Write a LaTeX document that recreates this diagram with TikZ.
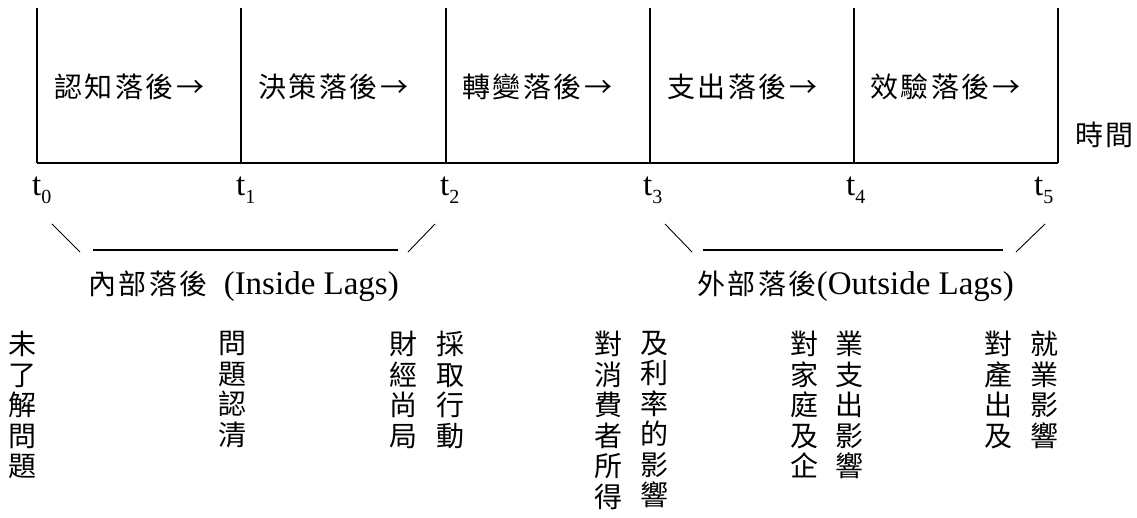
\documentclass[tikz,border=0pt]{standalone}
\usepackage{fontspec}
\setmainfont{Liberation Serif}
\newfontfamily\cjk[LetterSpace=9]{Noto Sans CJK TC}
\newfontfamily\cjkv{Noto Sans CJK TC}
\newcommand{\tsub}[1]{t\raisebox{-0.25em}{\fontsize{20}{20}\selectfont #1}}
\begin{document}
\begin{tikzpicture}[x=1pt,y=-1pt,
  frame/.style={line width=1.8pt},
  brk/.style={line width=1.3pt},
  diag/.style={line width=0.9pt},
  boxlabel/.style={font=\cjk\fontsize{28}{30}\selectfont, anchor=west, inner sep=0pt},
  tlabel/.style={font=\fontsize{33}{33}\selectfont, anchor=west, inner sep=0pt},
  laglabel/.style={anchor=west, inner sep=0pt},
  vcol/.style={font=\cjkv\fontsize{28}{30.5}\selectfont, align=center, anchor=north, inner sep=0pt}]
\useasboundingbox (0,0) rectangle (1137,518);

% frame of the time line
\foreach \i/\x in {0/37,1/241,2/446,3/650,4/854,5/1058}{
  \coordinate (top\i) at (\x,8);
  \coordinate (bot\i) at (\x,163);
}
\draw[frame] (bot0) -- (bot5);
\foreach \i in {0,...,5}{\draw[frame] (top\i) -- (bot\i);}

% lag names in the boxes
\node[boxlabel] (b1) at (54,87) {認知落後→};
\node[boxlabel] (b2) at (258,87) {決策落後→};
\node[boxlabel] (b3) at (462,87) {轉變落後→};
\node[boxlabel] (b4) at (667,87) {支出落後→};
\node[boxlabel] (b5) at (870,87) {效驗落後→};
\node[boxlabel] (time) at (1075,135) {時間};

% time points
\node[tlabel] (t0) at (32,190) {\tsub{0}};
\node[tlabel] (t1) at (236,190) {\tsub{1}};
\node[tlabel] (t2) at (440,190) {\tsub{2}};
\node[tlabel] (t3) at (643,190) {\tsub{3}};
\node[tlabel] (t4) at (846,190) {\tsub{4}};
\node[tlabel] (t5) at (1034,190) {\tsub{5}};

% brackets
\coordinate (ia) at (52,224);  \coordinate (ib) at (80,252);
\coordinate (ic) at (93,250);  \coordinate (id) at (398,250);
\coordinate (ie) at (408,252); \coordinate (if) at (435,224);
\draw[diag] (ia) -- (ib);
\draw[brk] (ic) -- (id);
\draw[diag] (ie) -- (if);
\coordinate (oa) at (665,224);  \coordinate (ob) at (692,252);
\coordinate (oc) at (703,250);  \coordinate (od) at (1003,250);
\coordinate (oe) at (1016,252); \coordinate (of) at (1045,224);
\draw[diag] (oa) -- (ob);
\draw[brk] (oc) -- (od);
\draw[diag] (oe) -- (of);

\node[laglabel] (inside) at (88,286) {{\cjk\fontsize{28}{30}\selectfont 內部落後}\hspace{16pt}{\fontsize{33}{33}\selectfont(Inside Lags)}};
\node[laglabel] (outside) at (697,286) {{\cjk\fontsize{28}{30}\selectfont 外部落後}{\fontsize{33}{33}\selectfont(Outside Lags)}};

% vertical notes
\node[vcol] (v1) at (23,331) {未\\了\\解\\問\\題};
\node[vcol] (v2) at (232,331) {問\\題\\認\\清};
\node[vcol] (v3) at (403,331) {財\\經\\尚\\局};
\node[vcol] (v4) at (450,331) {採\\取\\行\\動};
\node[vcol] (v5) at (608,331) {對\\消\\費\\者\\所\\得};
\node[vcol] (v6) at (654,331) {及\\利\\率\\的\\影\\響};
\node[vcol] (v7) at (804,331) {對\\家\\庭\\及\\企};
\node[vcol] (v8) at (849,331) {業\\支\\出\\影\\響};
\node[vcol] (v9) at (998,331) {對\\產\\出\\及};
\node[vcol] (v10) at (1044,331) {就\\業\\影\\響};
\end{tikzpicture}
\end{document}
